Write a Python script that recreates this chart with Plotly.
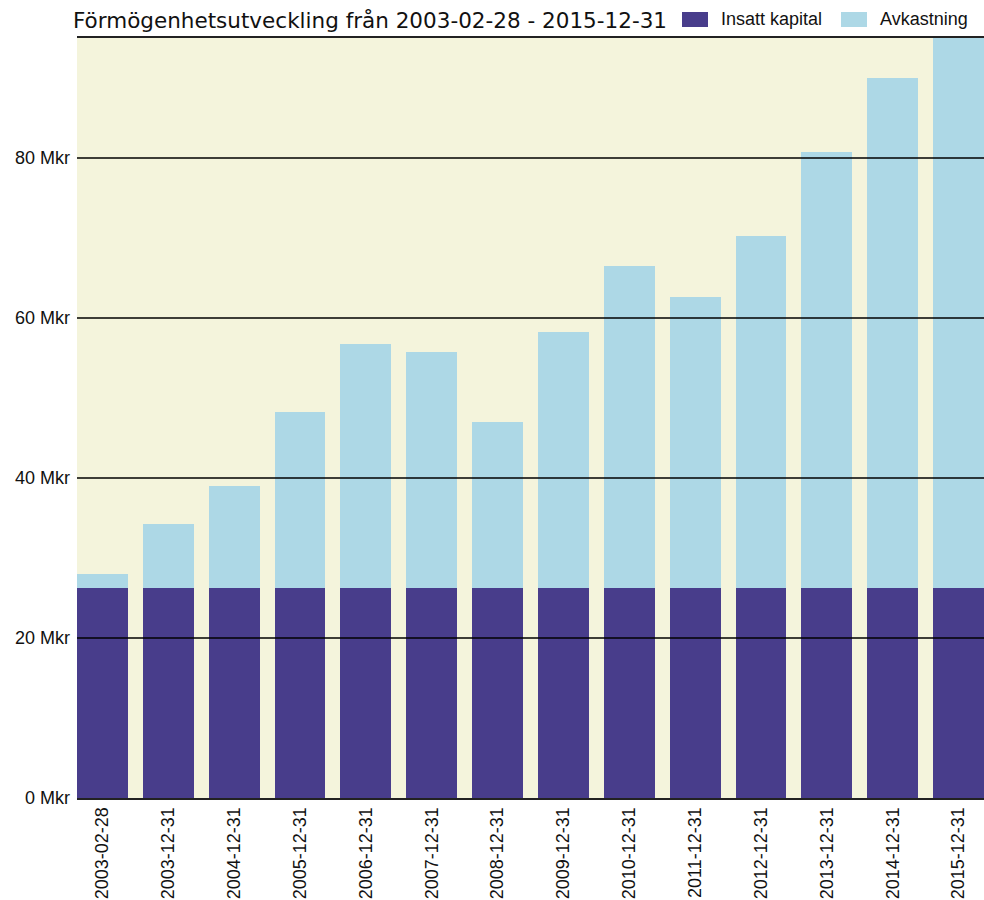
import plotly.graph_objects as go

# ====================================================
# DATA
# ====================================================
dates = ["2003-02-28", "2003-12-31", "2004-12-31", "2005-12-31", "2006-12-31",
         "2007-12-31", "2008-12-31", "2009-12-31", "2010-12-31", "2011-12-31",
         "2012-12-31", "2013-12-31", "2014-12-31", "2015-12-31"]
insatt = [26.25] * 14
avkastning = [1.75, 7.95, 12.7, 22.05, 30.55, 29.45, 20.75, 31.95, 40.25, 36.35,
              44.05, 54.45, 63.75, 70.75]
y_ticks = [0, 20, 40, 60, 80]
y_labels = ["0 Mkr", "20 Mkr", "40 Mkr", "60 Mkr", "80 Mkr"]

title = "Förmögenhetsutveckling från 2003-02-28 - 2015-12-31"

dark = "#483D8B"
light = "#ADD8E6"
bg = "#F4F4DC"
font = "Liberation Sans, Arial, sans-serif"

gap = 0.227
half = (1 - gap) / 2

W, H = 984, 900
PL, PT, PW, PH = 77, 38, 907, 759.7   # plot area in pixels


def px_x(x):
    return (x - PL) / PW


def px_y(y):
    return 1 + (PT - y) / PH


fig = go.Figure()
fig.add_trace(go.Bar(x=dates, y=insatt, name="Insatt kapital",
                     marker=dict(color=dark, line=dict(width=0))))
fig.add_trace(go.Bar(x=dates, y=avkastning, name="Avkastning",
                     marker=dict(color=light, line=dict(width=0))))

# gridlines drawn over the bars
for v in y_ticks[1:]:
    fig.add_shape(type="line", xref="paper", yref="y", x0=0, x1=1, y0=v, y1=v,
                  line=dict(color="black", width=1.3), layer="above")

# legend drawn by hand (wide swatches)
legend_items = [("Insatt kapital", dark, 682), ("Avkastning", light, 841)]
for label, col, px in legend_items:
    fig.add_shape(type="rect", xref="paper", yref="paper",
                  x0=px_x(px), x1=px_x(px + 26), y0=px_y(27), y1=px_y(12),
                  fillcolor=col, line=dict(width=0), layer="above")
    fig.add_annotation(text=label, xref="paper", yref="paper",
                       x=px_x(px + 37), y=px_y(19.5),
                       xanchor="left", yanchor="middle", showarrow=False,
                       font=dict(family=font, size=18, color="#111"))

fig.update_layout(
    width=W, height=H, autosize=False,
    margin=dict(l=PL, r=W - PL - PW, t=PT, b=H - PT - PH),
    barmode="stack", bargap=gap,
    showlegend=False,
    plot_bgcolor=bg, paper_bgcolor="white",
    title=dict(text=title, x=73 / W, xanchor="left", xref="container",
               y=1 - 20 / H, yanchor="middle",
               font=dict(family="DejaVu Sans, Verdana, sans-serif", size=21.5, color="#111")),
    xaxis=dict(type="category", range=[-half, len(dates) - 1 + half], tickangle=-90,
               tickfont=dict(family=font, size=18, color="#111"),
               showgrid=False, showline=True, mirror=True, automargin=False,
               linecolor="#222", linewidth=2, ticks="", ticklabelstandoff=0),
    yaxis=dict(range=[0, 95], tickvals=y_ticks, ticktext=y_labels,
               tickfont=dict(family=font, size=18, color="#111"),
               showgrid=False, zeroline=False, ticks="", automargin=False,
               ticklabelstandoff=6),
)

fig.write_html("out.html", config={"responsive": False, "displayModeBar": False},
               post_script="document.body.style.margin='0';document.body.style.overflow='hidden';")
